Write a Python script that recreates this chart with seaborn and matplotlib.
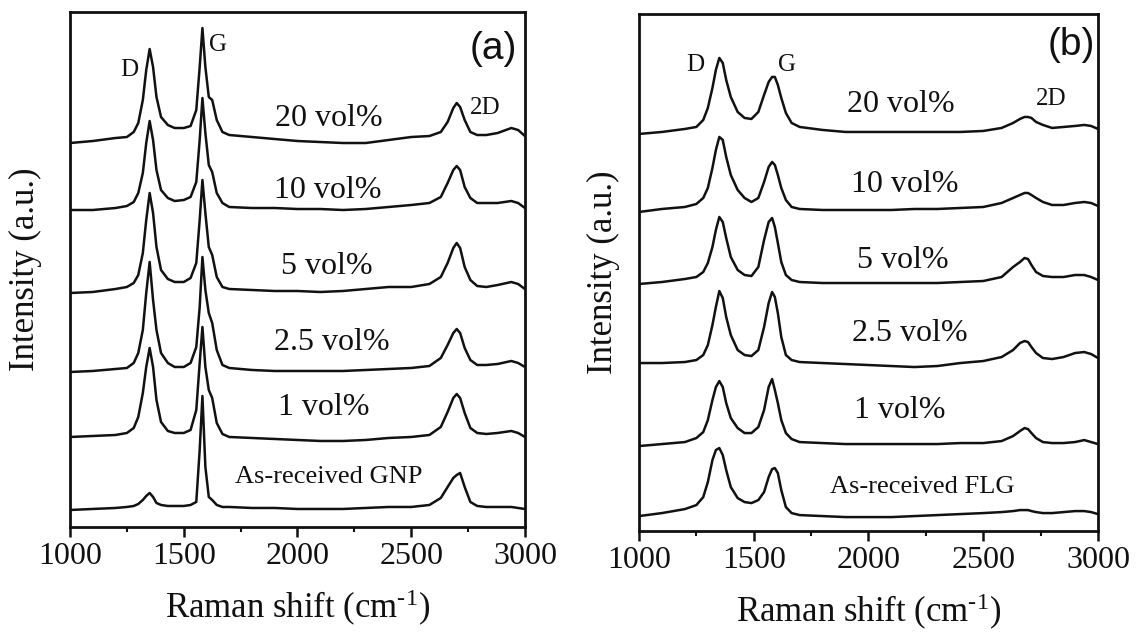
import numpy as np
import pandas as pd
import matplotlib
matplotlib.use("Agg")
import matplotlib.pyplot as plt
from matplotlib.ticker import MultipleLocator
import seaborn as sns

# Raman spectra (heights in a.u., stacked with offset)
x_gnp = [1000, 1100, 1200, 1250, 1280, 1300, 1320, 1335, 1350, 1365, 1380, 1400,
         1430, 1460, 1500, 1530, 1555, 1570, 1582, 1595, 1610, 1625, 1645, 1670,
         1700, 1800, 1900, 2000, 2100, 2200, 2300, 2400, 2500, 2580, 2630, 2660,
         2685, 2700, 2715, 2735, 2760, 2790, 2830, 2880, 2940, 2970, 3000]

gnp_20 = [384, 386, 389, 390, 395, 404, 427, 457, 478, 460, 430, 410,
          402, 399, 399, 401, 417, 460, 499, 460, 430, 427, 407, 395,
          392, 390, 388, 386, 385, 384, 384, 387, 390, 391, 395, 405,
          419, 424, 420, 407, 395, 392, 392, 394, 399, 397, 391]
gnp_10 = [317, 317, 319, 321, 325, 334, 354, 384, 406, 387, 357, 337,
          329, 326, 327, 330, 345, 387, 429, 394, 362, 355, 334, 324,
          320, 319, 319, 318, 318, 317, 318, 320, 322, 324, 330, 344,
          357, 361, 357, 340, 329, 324, 324, 324, 326, 324, 319]
gnp_5 = [234, 235, 238, 240, 244, 252, 274, 307, 334, 314, 280, 257,
         248, 245, 245, 249, 264, 307, 347, 314, 280, 272, 250, 240,
         238, 237, 236, 236, 235, 236, 238, 240, 240, 243, 250, 264,
         279, 284, 279, 260, 247, 241, 240, 242, 245, 243, 238]
gnp_2p5 = [155, 156, 158, 159, 164, 174, 197, 234, 265, 227, 197, 174,
           164, 160, 160, 164, 180, 220, 270, 237, 214, 204, 177, 162,
           159, 157, 156, 156, 156, 156, 157, 158, 159, 161, 169, 182,
           194, 198, 194, 179, 167, 162, 162, 163, 166, 164, 160]
gnp_1 = [90, 91, 92, 94, 99, 110, 134, 160, 179, 160, 127, 105,
         96, 94, 94, 97, 117, 164, 200, 160, 137, 129, 104, 93,
         90, 89, 88, 87, 86, 86, 87, 89, 90, 92, 100, 115,
         129, 133, 129, 114, 99, 94, 93, 94, 96, 94, 90]
gnp_raw = [17, 18, 19, 20, 21, 23, 27, 31, 34, 30, 24, 22,
           21, 21, 21, 22, 25, 77, 131, 60, 30, 27, 22, 20,
           20, 19, 19, 18, 18, 18, 19, 20, 20, 22, 29, 40,
           49, 52, 54, 40, 25, 21, 20, 20, 20, 19, 18]

x_flg = [1000, 1100, 1200, 1250, 1280, 1300, 1320, 1335, 1350, 1365, 1380, 1400,
         1430, 1460, 1490, 1520, 1545, 1565, 1580, 1592, 1605, 1620, 1640, 1665,
         1700, 1800, 1900, 2000, 2100, 2200, 2300, 2400, 2500, 2580, 2630, 2660,
         2680, 2695, 2710, 2730, 2760, 2800, 2850, 2900, 2940, 2970, 3000]

flg_20 = [397, 399, 402, 404, 411, 423, 443, 461, 473, 468, 451, 434,
          419, 413, 412, 419, 436, 449, 454, 454, 446, 433, 418, 408,
          404, 401, 399, 399, 399, 399, 399, 399, 400, 403, 408, 412,
          414, 414, 413, 409, 406, 403, 404, 405, 406, 405, 402]
flg_10 = [319, 322, 324, 327, 333, 343, 363, 381, 394, 391, 374, 356,
          341, 333, 329, 333, 349, 364, 369, 366, 356, 343, 331, 324,
          322, 321, 321, 321, 321, 322, 322, 323, 324, 328, 333, 336,
          338, 338, 336, 333, 329, 326, 326, 328, 329, 328, 325]
flg_5 = [247, 249, 252, 254, 259, 268, 284, 301, 314, 309, 293, 274,
         261, 256, 255, 264, 291, 309, 313, 304, 288, 269, 256, 251,
         249, 248, 248, 248, 248, 248, 248, 249, 250, 254, 264, 269,
         273, 272, 266, 259, 255, 254, 254, 256, 256, 254, 251]
flg_2p5 = [168, 168, 169, 171, 176, 186, 206, 224, 240, 233, 214, 196,
           181, 176, 175, 181, 204, 228, 239, 234, 218, 194, 176, 171,
           169, 168, 167, 166, 165, 164, 165, 168, 170, 174, 181, 188,
           190, 189, 184, 178, 173, 172, 174, 178, 179, 177, 173]
flg_1 = [85, 87, 89, 93, 99, 111, 131, 144, 150, 144, 128, 113,
         103, 98, 98, 104, 121, 144, 152, 141, 128, 111, 98, 92,
         89, 88, 87, 87, 87, 87, 87, 88, 88, 90, 95, 100,
         103, 102, 98, 93, 89, 88, 88, 89, 91, 89, 87]
flg_raw = [15, 18, 22, 26, 34, 49, 71, 81, 83, 76, 61, 44,
           33, 29, 28, 31, 39, 54, 62, 63, 58, 41, 24, 18,
           16, 15, 14, 14, 14, 15, 16, 17, 18, 19, 20, 21,
           21, 21, 20, 19, 18, 18, 19, 20, 20, 19, 17]

samples = ["20 vol%", "10 vol%", "5 vol%", "2.5 vol%", "1 vol%"]
gnp_curves = [gnp_20, gnp_10, gnp_5, gnp_2p5, gnp_1, gnp_raw]
flg_curves = [flg_20, flg_10, flg_5, flg_2p5, flg_1, flg_raw]

# label positions (x in cm-1, y in a.u.)
gnp_label_xy = [(2137, 409), (2134, 337), (2129, 261), (2153, 184), (2114, 119), (2137, 50)]
flg_label_xy = [(2142, 426), (2157, 346), (2150, 271), (2181, 198), (2134, 121), (2236, 44)]
gnp_peaks = {"D": (1259, 457), "G": (1651, 482), "2D": (2827, 419)}
flg_peaks = {"D": (1244, 466), "G": (1643, 466), "2D": (2795, 432)}


def long_table(x, curves, names):
    rows = []
    for name, y in zip(names, curves):
        rows.append(pd.DataFrame({"shift": x, "intensity": y, "sample": name}))
    return pd.concat(rows, ignore_index=True)


sns.set_theme(style="ticks")
plt.rcParams["font.family"] = ["Liberation Serif", "DejaVu Serif"]
plt.rcParams["mathtext.fontset"] = "custom"
plt.rcParams["mathtext.rm"] = "Liberation Serif"
plt.rcParams["mathtext.it"] = "Liberation Serif:italic"

fig = plt.figure(figsize=(11.37, 6.33), dpi=100)
ax_a = fig.add_axes([0.0616, 0.1675, 0.4001, 0.8135])
ax_b = fig.add_axes([0.562, 0.161, 0.4037, 0.817])

panels = [
    (ax_a, x_gnp, gnp_curves, samples + ["As-received GNP"], gnp_label_xy, gnp_peaks,
     "(a)", (2859, 478), 515, 20),
    (ax_b, x_flg, flg_curves, samples + ["As-received FLG"], flg_label_xy, flg_peaks,
     "(b)", (2882, 486), 517, 14),
]

for ax, x, curves, names, label_xy, peaks, tag, tag_xy, ytop, ypad in panels:
    df = long_table(x, curves, names)
    sns.lineplot(data=df, x="shift", y="intensity", hue="sample",
                 palette=["#111111"] * len(names), estimator=None,
                 linewidth=1.8, legend=False, ax=ax)
    ax.set_xlim(1000, 3000)
    ax.set_ylim(0, ytop)
    ax.set_yticks([])
    ax.xaxis.set_major_locator(MultipleLocator(500))
    ax.xaxis.set_minor_locator(MultipleLocator(250))
    ax.tick_params(axis="x", which="major", direction="out", length=7, width=1.8,
                   labelsize=23, pad=4, colors="#111111")
    ax.tick_params(axis="x", which="minor", direction="out", length=3.5, width=1.5,
                   colors="#111111")
    for s in ax.spines.values():
        s.set_linewidth(2.0)
        s.set_color("#111111")
        s.set_visible(True)
    ax.set_xlabel(r"Raman shift (cm$^{\text{-}1}$)", fontsize=25, color="#111111",
                  labelpad=12)
    ax.set_ylabel("Intensity (a.u.)", fontsize=25, color="#111111", labelpad=ypad)

    for name, (tx, ty) in zip(names, label_xy):
        size = 19 if name.startswith("As") else 23
        ax.text(tx, ty, name, fontsize=size, ha="center", va="center", color="#111111")
    for name, (tx, ty) in peaks.items():
        ax.text(tx, ty, name, fontsize=18, ha="center", va="center", color="#111111")
    ax.text(tag_xy[0], tag_xy[1], tag, fontsize=28, ha="center", va="center",
            color="#111111", family=["Liberation Sans", "DejaVu Sans"])

fig.savefig("out.png", dpi=100)
